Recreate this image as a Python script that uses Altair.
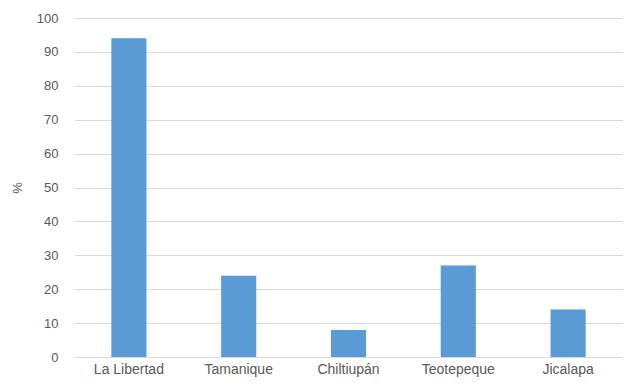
import altair as alt
import pandas as pd

categories = ["La Libertad", "Tamanique", "Chiltiupán", "Teotepeque", "Jicalapa"]
values = [94, 24, 8, 27, 14]

df = pd.DataFrame({"municipio": categories, "pct": values})

font = "Liberation Sans"
chart = alt.Chart(df).mark_bar(color="#5B9BD5").encode(
    x=alt.X("municipio:N", sort=categories, title=None,
            scale=alt.Scale(paddingInner=0.68, paddingOuter=0.34),
            axis=alt.Axis(labelAngle=0, ticks=False, domain=False, grid=False,
                          labelFont=font, labelFontSize=14, labelColor="#595959",
                          labelPadding=5)),
    y=alt.Y("pct:Q", title="%", scale=alt.Scale(domain=[0, 100]),
            axis=alt.Axis(values=list(range(0, 101, 10)), ticks=False, domain=False,
                          gridColor="#D9D9D9", labelFont=font, labelFontSize=13,
                          labelColor="#595959", labelPadding=16,
                          titleFont=font, titleFontSize=13, titleColor="#595959",
                          titleFontWeight="normal", titlePadding=12)),
).properties(
    width=549, height=339,
    autosize=alt.AutoSizeParams(type="none"),
    padding={"left": 66, "top": 10, "right": 0, "bottom": 22},
).configure_view(stroke=None)

chart.save("out.html", embed_options={"renderer": "svg", "actions": False})
